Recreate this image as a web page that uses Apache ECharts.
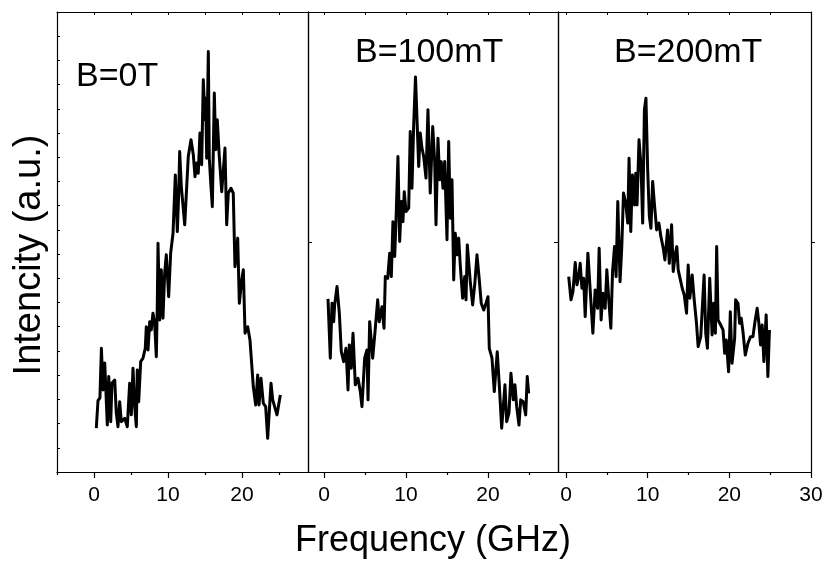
<!DOCTYPE html>
<html>
<head>
<meta charset="utf-8">
<script src="https://cdn.jsdelivr.net/npm/echarts@6/dist/echarts.min.js"></script>
<style>
html,body{margin:0;padding:0;background:#fff;}
#main{width:826px;height:570px;}
</style>
</head>
<body>
<div id="main"></div>
<script>
// ---- data (Frequency in GHz, Intensity in arbitrary units) ----
var freq1 = [0.31,0.54,0.8,1.0,1.22,1.45,1.8,1.99,2.26,2.43,
 2.8,3.01,3.24,3.47,3.69,4.15,4.5,4.82,5.04,5.27,
 5.5,5.72,5.85,6.04,6.31,6.62,6.93,7.07,7.3,7.53,
 7.74,7.97,8.2,8.42,8.55,8.65,8.88,9.09,9.32,9.55,
 9.77,10.09,10.36,10.68,10.99,11.26,11.45,11.58,11.8,12.26,
 12.74,13.11,13.42,13.65,13.88,14.09,14.32,14.55,14.77,15.0,
 15.09,15.23,15.45,15.58,15.81,15.99,16.26,16.45,16.66,16.93,
 17.26,17.7,17.93,18.15,18.51,18.82,19.05,19.42,19.64,19.96,
 20.18,20.41,20.77,21.08,21.53,21.85,22.12,22.3,22.57,22.88,
 23.2,23.47,23.92,24.15,24.36,24.73,25.18];
var int1 = [1.81,2.95,3.06,5.11,3.39,4.5,1.94,3.94,2.08,3.68,
 3.8,2.44,1.87,2.9,2.08,2.22,1.87,3.67,2.36,4.29,
 2.7,1.87,4.21,2.9,4.56,4.7,5.11,6.0,5.04,6.21,
 5.87,6.56,6.14,4.76,6.83,9.45,6.28,8.35,6.35,8.21,
 8.97,7.24,9.04,9.86,12.27,9.93,11.52,13.24,11.79,10.21,
 13.03,13.72,13.1,12.2,12.76,12.34,14.0,12.69,16.2,14.55,
 15.44,12.96,17.37,12.96,11.79,10.96,15.65,13.31,14.55,13.03,
 11.58,13.38,10.21,11.52,11.72,11.52,8.48,9.66,6.97,7.93,
 8.35,5.73,6.0,5.45,3.52,2.77,4.01,2.77,3.87,2.84,
 2.7,1.39,3.67,2.98,3.05,2.36,3.18];

var freq2 = [0.49,0.77,0.98,1.18,1.3,1.59,1.87,2.11,2.4,2.68,
 2.93,3.09,3.33,3.54,3.82,4.15,4.43,4.63,4.96,5.24,
 5.37,5.57,5.94,6.26,6.55,6.74,7.07,7.32,7.48,7.77,
 8.01,8.21,8.41,8.62,8.78,9.02,9.23,9.43,9.63,9.79,
 10.0,10.33,10.52,10.73,10.94,11.16,11.55,11.74,11.95,12.16,
 12.44,12.68,12.96,13.26,13.5,13.66,13.9,14.11,14.3,14.51,
 14.72,15.0,15.21,15.4,15.61,15.82,16.01,16.22,16.43,16.62,
 16.91,17.16,17.32,17.48,17.84,18.13,18.38,18.66,18.94,19.18,
 19.48,19.76,20.0,20.16,20.49,20.77,21.13,21.38,21.67,22.07,
 22.28,22.56,22.8,23.09,23.29,23.5,23.78,23.99,24.3,24.6,
 24.79,24.96];
var int2 = [7.15,4.7,6.97,6.21,6.9,7.66,6.56,4.97,4.56,5.11,
 3.39,5.25,4.29,5.73,3.6,3.87,3.32,2.7,4.7,5.04,
 2.98,6.21,4.7,5.94,7.11,6.21,6.83,5.94,8.07,8.0,
 9.04,8.07,10.34,8.9,10.34,13.03,9.52,11.17,10.34,11.58,
 10.76,10.9,14.06,11.72,14.34,16.32,12.62,14.0,13.38,13.03,
 12.14,14.96,11.52,14.27,12.82,10.21,13.79,12.07,12.82,11.72,
 12.82,9.59,13.65,10.48,12.07,7.93,9.86,8.97,9.66,8.55,
 7.18,8.07,7.11,9.38,7.86,6.9,7.73,8.97,7.93,6.97,
 6.69,6.97,7.24,5.11,4.7,3.32,4.97,3.6,1.81,3.6,
 2.08,2.43,4.08,2.98,3.6,2.7,1.94,2.98,2.9,2.36,
 3.94,3.25];

var freq3 = [0.33,0.61,0.85,1.13,1.34,1.55,1.74,1.95,2.16,2.35,
 2.68,2.96,3.29,3.57,3.87,4.06,4.3,4.51,4.79,5.0,
 5.21,5.49,5.7,5.94,6.13,6.34,6.62,6.83,7.04,7.32,
 7.56,7.72,7.93,8.13,8.38,8.54,8.7,8.94,9.18,9.39,
 9.6,9.79,10.0,10.21,10.4,10.61,10.82,11.1,11.38,11.62,
 11.91,12.11,12.44,12.65,12.93,13.13,13.41,13.57,13.74,13.94,
 14.23,14.48,14.76,14.96,15.16,15.45,15.7,15.98,16.18,16.5,
 16.91,17.11,17.32,17.6,17.89,18.09,18.29,18.45,18.62,18.94,
 19.23,19.43,19.63,19.91,20.12,20.33,20.65,20.77,21.06,21.26,
 21.46,21.67,21.95,22.28,22.6,22.89,23.17,23.41,23.62,23.82,
 24.02,24.23,24.51,24.72,24.91];
var int3 = [8.07,7.11,7.45,8.65,7.73,8.07,8.62,7.59,8.0,6.42,
 9.04,7.52,5.73,7.52,6.76,9.24,6.28,7.38,6.76,8.35,
 7.24,5.94,8.28,9.31,8.07,11.17,7.86,9.31,11.52,11.1,
 10.28,12.96,9.93,12.27,11.03,12.34,11.03,13.72,12.69,10.28,
 14.96,15.44,12.48,10.55,10.07,12.0,11.1,10.0,10.28,9.72,
 9.24,8.76,10.0,8.62,10.21,8.28,9.04,9.31,8.35,8.28,
 7.59,7.31,6.56,8.55,7.18,8.14,7.11,6.14,5.18,5.59,
 8.14,5.73,5.11,8.0,5.66,6.97,5.73,9.31,6.28,6.07,
 5.87,4.9,5.45,4.14,6.62,4.49,5.52,7.11,6.97,6.14,
 6.35,5.8,4.83,5.32,5.59,5.59,6.28,6.76,6.14,5.25,
 6.07,4.56,6.49,3.94,5.87];

var panelLabels = ['B=0T', 'B=100mT', 'B=200mT'];
var xMajor = [[0,10,20],[0,10,20],[0,10,20,30]];
var xMinor = [[-5,5,15,25],[5,15,25],[5,15,25]];
var xTop = [[0,5,10,15,20,25],[0,5,10,15,20,25],[0,5,10,15,20,25]];
var xTitle = 'Frequency (GHz)';
var yTitle = 'Intencity (a.u.)';

// ---- layout ----
var grids = [
  {left:57, top:12, width:251, height:460},
  {left:308, top:12, width:250, height:460},
  {left:558, top:12, width:253, height:460}
];
var xRanges = [[-5, 28.92], [-1.95, 28.54], [-0.98, 30]];
var FONT = "'Liberation Sans', Arial, sans-serif";
var lineCol = '#000';

function pairs(xs, ys){ var out=[]; for (var i=0;i<xs.length;i++) out.push([xs[i], ys[i]]); return out; }

var xAxes = [], yAxes = [], series = [];
var datasets = [pairs(freq1,int1), pairs(freq2,int2), pairs(freq3,int3)];

for (var g=0; g<3; g++){
  var base = xAxes.length;
  xAxes.push({
    type:'value', gridIndex:g, position:'bottom', min:xRanges[g][0], max:xRanges[g][1],
    axisLine:{show:true, onZero:false, lineStyle:{color:lineCol, width:1.2}},
    axisTick:{show:true, inside:false, length:6, customValues:xMajor[g], lineStyle:{color:lineCol, width:1.2}},
    axisLabel:{show:true, customValues:xMajor[g], margin:13, color:'#000', fontSize:21, fontFamily:FONT},
    splitLine:{show:false}
  });
  xAxes.push({
    type:'value', gridIndex:g, position:'bottom', min:xRanges[g][0], max:xRanges[g][1],
    axisLine:{show:false, onZero:false},
    axisTick:{show:true, inside:false, length:3, customValues:xMinor[g], lineStyle:{color:lineCol, width:1.2}},
    axisLabel:{show:false}, splitLine:{show:false}
  });
  xAxes.push({
    type:'value', gridIndex:g, position:'top', min:xRanges[g][0], max:xRanges[g][1],
    axisLine:{show:true, onZero:false, lineStyle:{color:lineCol, width:1.2}},
    axisTick:{show:true, inside:true, length:3, customValues:xTop[g], lineStyle:{color:lineCol, width:1}},
    axisLabel:{show:false}, splitLine:{show:false}
  });
  var yb = yAxes.length;
  var leftTick, rightTick;
  if (g===0){
    leftTick = {show:true, inside:true, length:3, lineStyle:{color:lineCol, width:1}};
    rightTick = {show:false};
  } else if (g===1){
    leftTick = {show:true, inside:true, length:4, customValues:[9.5], lineStyle:{color:lineCol, width:1}};
    rightTick = {show:true, inside:true, length:4, customValues:[9.5], lineStyle:{color:lineCol, width:1}};
  } else {
    leftTick = {show:false};
    rightTick = {show:true, inside:false, length:4, customValues:[9.5], lineStyle:{color:lineCol, width:1}};
  }
  yAxes.push({
    type:'value', gridIndex:g, position:'left', min:0, max:19, interval:1,
    axisLine:{show:true, onZero:false, lineStyle:{color:lineCol, width:1.2}},
    axisTick:leftTick, axisLabel:{show:false}, splitLine:{show:false}
  });
  yAxes.push({
    type:'value', gridIndex:g, position:'right', min:0, max:19, interval:1,
    axisLine:{show:true, onZero:false, lineStyle:{color:lineCol, width:1.2}},
    axisTick:rightTick, axisLabel:{show:false}, splitLine:{show:false}
  });
  series.push({
    type:'line', xAxisIndex:base, yAxisIndex:yb, data:datasets[g],
    showSymbol:false, symbol:'none', smooth:false,
    lineStyle:{color:'#000', width:3, join:'round'}, z:5
  });
}

var labelPos = [[76,77],[355,53],[614,53]];
var graphics = [];
for (var k=0;k<3;k++){
  graphics.push({type:'text', x:labelPos[k][0], y:labelPos[k][1], z:10,
    style:{text:panelLabels[k], fill:'#000', font:'34px ' + FONT, textAlign:'left', textVerticalAlign:'middle'}});
}
graphics.push({type:'text', x:433, y:541, z:10,
  style:{text:xTitle, fill:'#000', font:'36px ' + FONT, textAlign:'center', textVerticalAlign:'middle'}});
graphics.push({type:'text', x:30, y:255, rotation:Math.PI/2, z:10,
  style:{text:yTitle, fill:'#000', font:'38px ' + FONT, textAlign:'center', textVerticalAlign:'middle'}});

var chart = echarts.init(document.getElementById('main'), null, {renderer:'canvas'});
chart.setOption({
  animation:false,
  backgroundColor:'#fff',
  grid:grids,
  xAxis:xAxes,
  yAxis:yAxes,
  series:series,
  graphic:graphics
});
</script>
</body>
</html>
